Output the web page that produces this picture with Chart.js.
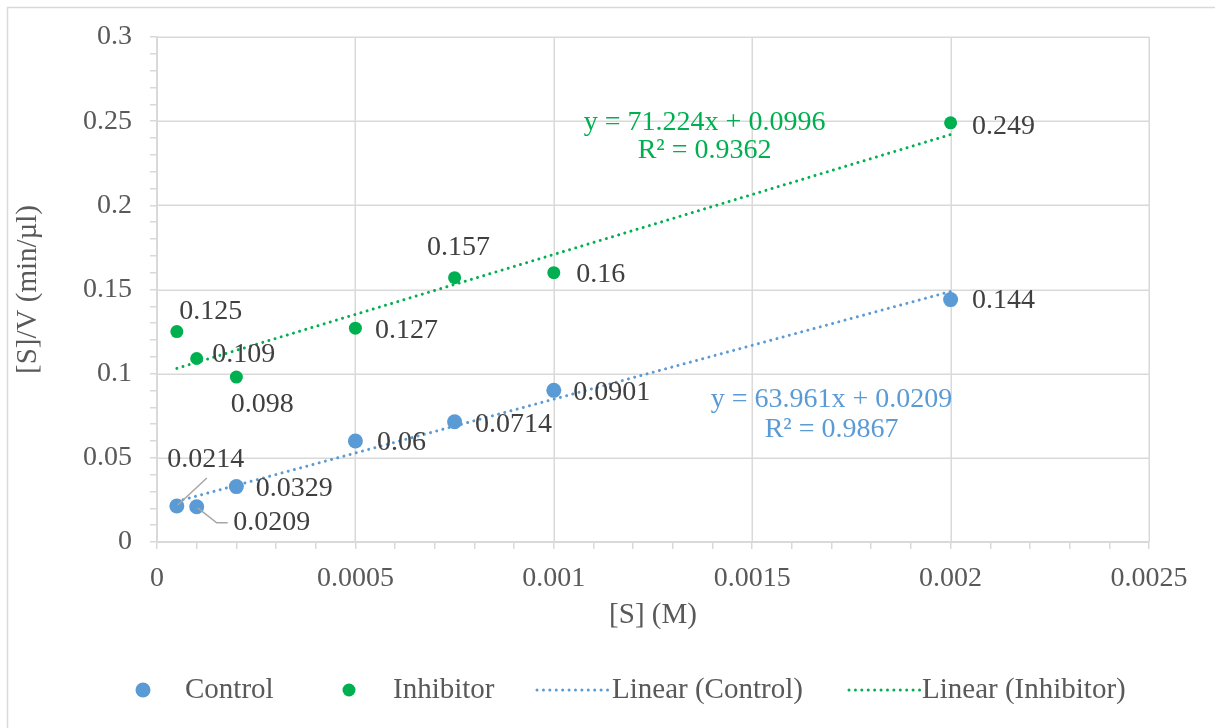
<!DOCTYPE html>
<html>
  <head>
    <style>
      body { margin: 0; background: #fff; }
      .container { width: 1215px; height: 728px; }
    </style>
  </head>
  <body>
    <div class="container">
      <canvas id="chart" width="1215" height="728"></canvas>
    </div>

    <script src="https://cdn.jsdelivr.net/npm/chart.js"></script>
    <script>
      // substrate concentrations [S] (M)
      const concentrations = [0.00005, 0.0001, 0.0002, 0.0005, 0.00075, 0.001, 0.002];
      // [S]/V (min/µl)
      const controlValues = [0.0214, 0.0209, 0.0329, 0.06, 0.0714, 0.0901, 0.144];
      const inhibitorValues = [0.125, 0.109, 0.098, 0.127, 0.157, 0.16, 0.249];
      // trendlines as printed on the chart
      const controlFit = { slope: 63.961, intercept: 0.0209, r2: '0.9867' };
      const inhibitorFit = { slope: 71.224, intercept: 0.0996, r2: '0.9362' };
      const xTicks = [0, 0.0005, 0.001, 0.0015, 0.002, 0.0025];
      const yTicks = [0, 0.05, 0.1, 0.15, 0.2, 0.25, 0.3];

      const BLUE = '#5B9BD5';
      const GREEN = '#00B050';
      const GRID = '#D9D9D9';
      const TEXT = '#595959';
      const LABEL = '#404040';
      const FONT = '"Liberation Serif", "Times New Roman", serif';

      Chart.defaults.font.family = FONT;
      Chart.defaults.color = TEXT;

      function points(ys) {
        return concentrations.map((x, i) => ({ x: x, y: ys[i] }));
      }
      function fitLine(fit) {
        const x0 = concentrations[0];
        const x1 = concentrations[concentrations.length - 1];
        return [
          { x: x0, y: fit.slope * x0 + fit.intercept },
          { x: x1, y: fit.slope * x1 + fit.intercept },
        ];
      }
      function isMajor(v, list) {
        return list.some((t) => Math.abs(t - v) < 1e-9);
      }
      // major ticks plus the minor ones between them (5 per major step)
      function withMinor(list) {
        const step = (list[1] - list[0]) / 5;
        const out = [];
        const n = Math.round((list[list.length - 1] - list[0]) / step);
        for (let i = 0; i <= n; i++) out.push({ value: Number((list[0] + i * step).toFixed(8)) });
        return out;
      }

      // label offsets from each marker, in pixels
      const controlLabelOffsets = [[29, -46], [75, 16], [58, 2], [46, 2], [59, 3], [58, 2], [53, 1]];
      const inhibitorLabelOffsets = [[34, -20], [47, -4], [26, 28], [51, 2], [4, -30], [47, 2], [53, 4]];

      const decorations = {
        id: 'decorations',
        beforeDraw(chart) {
          const ctx = chart.ctx;
          ctx.save();
          ctx.fillStyle = '#fff';
          ctx.fillRect(0, 0, chart.width, chart.height);
          ctx.strokeStyle = GRID;
          ctx.lineWidth = 1.5;
          ctx.strokeRect(7.5, 7.5, chart.width + 20, chart.height + 20);
          ctx.restore();
        },
        beforeDatasetsDraw(chart) {
          // major gridlines only
          const { ctx, chartArea: a, scales } = chart;
          ctx.save();
          ctx.strokeStyle = GRID;
          ctx.lineWidth = 1.5;
          ctx.beginPath();
          xTicks.forEach((v) => {
            const px = Math.round(scales.x.getPixelForValue(v)) + 0.25;
            ctx.moveTo(px, a.top);
            ctx.lineTo(px, a.bottom);
          });
          yTicks.forEach((v) => {
            const py = Math.round(scales.y.getPixelForValue(v)) + 0.25;
            ctx.moveTo(a.left, py);
            ctx.lineTo(a.right, py);
          });
          ctx.stroke();
          ctx.restore();
        },
        afterDatasetsDraw(chart) {
          const ctx = chart.ctx;
          ctx.save();
          ctx.font = '28px ' + FONT;
          ctx.textAlign = 'center';
          ctx.textBaseline = 'middle';
          ctx.fillStyle = LABEL;

          const sets = [
            { index: 0, values: controlValues, offsets: controlLabelOffsets },
            { index: 1, values: inhibitorValues, offsets: inhibitorLabelOffsets },
          ];
          sets.forEach((s) => {
            const meta = chart.getDatasetMeta(s.index);
            meta.data.forEach((pt, i) => {
              const [dx, dy] = s.offsets[i];
              ctx.fillText(String(s.values[i]), pt.x + dx, pt.y + dy);
            });
          });

          // leader lines for the two crowded control labels
          const c = chart.getDatasetMeta(0).data;
          ctx.strokeStyle = '#A6A6A6';
          ctx.lineWidth = 1.5;
          ctx.beginPath();
          ctx.moveTo(c[0].x + 1, c[0].y - 1);
          ctx.lineTo(c[0].x + 30, c[0].y - 28);
          ctx.moveTo(c[1].x + 1, c[1].y + 1);
          ctx.lineTo(c[1].x + 20, c[1].y + 16);
          ctx.lineTo(c[1].x + 31, c[1].y + 16);
          ctx.stroke();

          // trendline equations
          const xs = chart.scales.x;
          const ys = chart.scales.y;
          ctx.fillStyle = GREEN;
          ctx.fillText('y = ' + inhibitorFit.slope + 'x + ' + inhibitorFit.intercept, xs.getPixelForValue(0.00138), ys.getPixelForValue(0.2494));
          ctx.fillText('R² = ' + inhibitorFit.r2, xs.getPixelForValue(0.00138), ys.getPixelForValue(0.2322));
          ctx.fillStyle = BLUE;
          ctx.fillText('y = ' + controlFit.slope + 'x + ' + controlFit.intercept, xs.getPixelForValue(0.0017), ys.getPixelForValue(0.0843));
          ctx.fillText('R² = ' + controlFit.r2, xs.getPixelForValue(0.0017), ys.getPixelForValue(0.0665));

          // legend
          const ly = 690;
          ctx.font = '29px ' + FONT;
          ctx.textAlign = 'left';
          ctx.fillStyle = BLUE;
          ctx.beginPath();
          ctx.arc(143, ly, 7.5, 0, Math.PI * 2);
          ctx.fill();
          ctx.fillStyle = GREEN;
          ctx.beginPath();
          ctx.arc(349, ly, 6.5, 0, Math.PI * 2);
          ctx.fill();
          ctx.lineWidth = 3;
          ctx.lineCap = 'round';
          ctx.setLineDash([0.01, 6.4]);
          ctx.strokeStyle = BLUE;
          ctx.beginPath();
          ctx.moveTo(537, ly);
          ctx.lineTo(608, ly);
          ctx.stroke();
          ctx.strokeStyle = GREEN;
          ctx.beginPath();
          ctx.moveTo(849, ly);
          ctx.lineTo(920, ly);
          ctx.stroke();
          ctx.setLineDash([]);
          ctx.fillStyle = TEXT;
          ctx.fillText(chart.data.datasets[0].label, 185, ly);
          ctx.fillText(chart.data.datasets[1].label, 393, ly);
          ctx.fillText(chart.data.datasets[2].label, 612, ly);
          ctx.fillText(chart.data.datasets[3].label, 922, ly);
          ctx.restore();
        },
      };

      const tickGrid = {
        drawOnChartArea: false,
        color: GRID,
        lineWidth: 1.5,
        tickColor: GRID,
        tickWidth: 1.5,
        tickLength: 7,
      };

      const config = {
        type: 'scatter',
        data: {
          datasets: [
            {
              label: 'Control',
              data: points(controlValues),
              backgroundColor: BLUE,
              borderColor: BLUE,
              borderWidth: 0,
              pointRadius: 7.5,
              order: 1,
            },
            {
              label: 'Inhibitor',
              data: points(inhibitorValues),
              backgroundColor: GREEN,
              borderColor: GREEN,
              borderWidth: 0,
              pointRadius: 6.5,
              order: 1,
            },
            {
              label: 'Linear (Control)',
              data: fitLine(controlFit),
              showLine: true,
              borderColor: BLUE,
              borderWidth: 3,
              borderDash: [0.01, 6.4],
              borderCapStyle: 'round',
              pointRadius: 0,
              order: 0,
            },
            {
              label: 'Linear (Inhibitor)',
              data: fitLine(inhibitorFit),
              showLine: true,
              borderColor: GREEN,
              borderWidth: 3,
              borderDash: [0.01, 6.4],
              borderCapStyle: 'round',
              pointRadius: 0,
              order: 0,
            },
          ],
        },
        options: {
          responsive: false,
          animation: false,
          layout: { padding: { left: 7, top: 37, right: 66, bottom: 91 } },
          plugins: {
            legend: { display: false },
            tooltip: { enabled: false },
          },
          scales: {
            x: {
              type: 'linear',
              min: 0,
              max: 0.0025,
              afterBuildTicks: (scale) => { scale.ticks = withMinor(xTicks); },
              afterFit: (scale) => { scale.height = 95; },
              ticks: {
                autoSkip: false,
                maxRotation: 0,
                padding: 13,
                color: TEXT,
                font: { size: 28 },
                callback: (v) => (isMajor(v, xTicks) ? String(Number(v.toPrecision(6))) : ''),
              },
              grid: tickGrid,
              border: { color: GRID, width: 1.5 },
              title: { display: true, text: '[S] (M)', color: TEXT, font: { size: 29 }, padding: 4 },
            },
            y: {
              min: 0,
              max: 0.3,
              afterBuildTicks: (scale) => { scale.ticks = withMinor(yTicks); },
              afterFit: (scale) => { scale.width = 150; },
              ticks: {
                autoSkip: false,
                padding: 18,
                color: TEXT,
                font: { size: 28 },
                callback: (v) => (isMajor(v, yTicks) ? String(Number(v.toPrecision(6))) : ''),
              },
              grid: tickGrid,
              border: { color: GRID, width: 1.5 },
              title: { display: true, text: '[S]/V (min/µl)', color: TEXT, font: { size: 29 }, padding: 4 },
            },
          },
        },
        plugins: [decorations],
      };

      new Chart(document.getElementById('chart'), config);
    </script>
  </body>
</html>
